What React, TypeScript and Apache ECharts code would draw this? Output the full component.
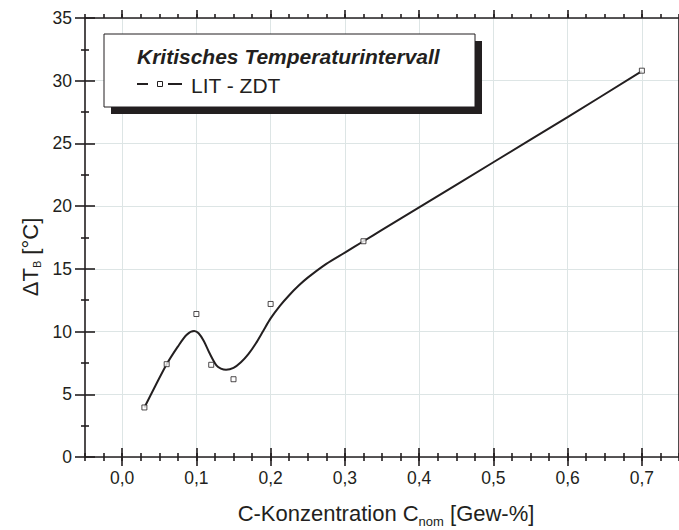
import React, { useEffect, useRef } from "react";
import * as echarts from "echarts";

// Major ticks on the concentration axis
const xTicks = [0, 0.1, 0.2, 0.3, 0.4, 0.5, 0.6, 0.7];

// Measured points: carbon concentration [wt-%] and critical interval ΔT_B [°C]
const measuredC = [0.03, 0.06, 0.1, 0.12, 0.15, 0.2, 0.325, 0.7];
const measuredDT = [3.95, 7.4, 11.4, 7.35, 6.2, 12.2, 17.2, 30.8];

// Fitted spline through the measurements (LIT - ZDT)
const fitC = [
  0.03, 0.045, 0.06, 0.075, 0.087, 0.097, 0.103, 0.11, 0.118, 0.127, 0.133,
  0.14, 0.15, 0.16, 0.17, 0.18, 0.19, 0.2, 0.2125, 0.225, 0.2375, 0.25,
  0.275, 0.3, 0.325, 0.35, 0.4, 0.5, 0.6, 0.7,
];
const fitDT = [
  3.95, 5.7, 7.4, 8.8, 9.75, 10.05, 9.87, 9.25, 8.25, 7.3, 7.05, 6.95, 7.1,
  7.55, 8.2, 9.05, 10.05, 11.05, 12.05, 12.9, 13.65, 14.3, 15.4, 16.3, 17.2,
  18.1, 19.9, 23.5, 27.1, 30.76,
];

const INK = "#231f20";
const GRID_COLOR = "#dde5e5";
const FONT = "'Liberation Sans', Arial, Helvetica, sans-serif";

const fmtComma = (v: number) => v.toFixed(1).replace(".", ",");

// width of a text run in the given pixel size
function textWidth(text: string, size: number): number {
  const ctx = document.createElement("canvas").getContext("2d");
  if (!ctx) return text.length * size * 0.55;
  ctx.font = `${size}px ${FONT}`;
  return ctx.measureText(text).width;
}

// a title made of runs, some of them subscripts, laid out along a line
type Run = { text: string; size: number; drop: number };

function titleRuns(runs: Run[], cx: number, cy: number, vertical: boolean) {
  const widths = runs.map((r) => textWidth(r.text, r.size));
  const total = widths.reduce((a, b) => a + b, 0);
  let pos = -total / 2;
  return runs.map((r, i) => {
    const el: any = {
      type: "text",
      z: 12,
      style: {
        text: r.text,
        fontSize: r.size,
        fontFamily: FONT,
        fill: INK,
        align: "left",
        verticalAlign: "middle",
      },
    };
    // baseline sits on cx/cy; 'middle' is ~0.3465 em above the baseline
    const mid = r.drop - 0.3465 * r.size;
    if (vertical) {
      el.rotation = Math.PI / 2;
      el.x = cx + mid;
      el.y = cy - pos;
    } else {
      el.x = cx + pos;
      el.y = cy + mid;
    }
    pos += widths[i];
    return el;
  });
}

export default function App() {
  const ref = useRef<HTMLDivElement>(null);

  useEffect(() => {
    if (!ref.current) return;
    const chart = echarts.init(ref.current, undefined, { renderer: "svg" });

    const line = { color: INK, width: 1.6 };
    const baseX = {
      type: "value" as const,
      min: -0.05,
      max: 0.75,
      splitNumber: 8,
      axisLine: { show: false, onZero: false, lineStyle: line },
      axisLabel: { show: false },
      splitLine: { show: false },
      minorTick: { show: false },
    };
    const baseY = {
      type: "value" as const,
      min: 0,
      max: 35,
      interval: 5,
      axisLine: { show: false, onZero: false, lineStyle: line },
      axisLabel: { show: false },
      splitLine: { show: false },
    };

    const xTitle = titleRuns(
      [
        { text: "C-Konzentration C", size: 22, drop: 0 },
        { text: "nom", size: 13, drop: 5 },
        { text: " [Gew-%]", size: 22, drop: 0 },
      ],
      386,
      521,
      false
    );
    const yTitle = titleRuns(
      [
        { text: "ΔT", size: 22, drop: 0 },
        { text: "B", size: 11, drop: 2 },
        { text: " [°C]", size: 22, drop: 0 },
      ],
      38.5,
      257,
      true
    );

    chart.setOption({
      animation: false,
      backgroundColor: "#ffffff",
      grid: { left: 85, top: 18, width: 596, height: 439, containLabel: false },
      xAxis: [
        {
          ...baseX,
          position: "bottom",
          axisLine: { show: true, onZero: false, lineStyle: line },
          axisTick: { show: true, inside: false, length: 9, customValues: xTicks, lineStyle: line },
          axisLabel: {
            show: true,
            customValues: xTicks,
            formatter: (v: number) => fmtComma(v),
            margin: 12,
            fontSize: 17.5,
            color: INK,
            fontFamily: FONT,
          },
          splitLine: { show: true, lineStyle: { color: GRID_COLOR, width: 1 } },
        },
        {
          ...baseX,
          position: "bottom",
          axisTick: { show: true, inside: true, length: 9, customValues: xTicks, lineStyle: line },
        },
        {
          ...baseX,
          position: "bottom",
          interval: 0.025,
          axisTick: { show: true, inside: false, length: 4, lineStyle: line },
        },
        {
          ...baseX,
          position: "bottom",
          interval: 0.025,
          axisTick: { show: true, inside: true, length: 4, lineStyle: line },
        },
        {
          ...baseX,
          position: "top",
          axisLine: { show: true, onZero: false, lineStyle: line },
          axisTick: { show: true, inside: false, length: 8, customValues: xTicks, lineStyle: line },
        },
        {
          ...baseX,
          position: "top",
          interval: 0.025,
          axisTick: { show: true, inside: false, length: 4, lineStyle: line },
        },
      ],
      yAxis: [
        {
          ...baseY,
          position: "left",
          axisLine: { show: true, onZero: false, lineStyle: line },
          axisTick: { show: true, inside: false, length: 10, lineStyle: line },
          minorTick: { show: true, splitNumber: 2, length: 4, lineStyle: line },
          axisLabel: {
            show: true,
            margin: 13,
            fontSize: 17.5,
            color: INK,
            fontFamily: FONT,
          },
          splitLine: { show: true, lineStyle: { color: GRID_COLOR, width: 1 } },
        },
        {
          ...baseY,
          position: "left",
          axisTick: { show: true, inside: true, length: 10, lineStyle: line },
          minorTick: { show: true, splitNumber: 2, length: 4, lineStyle: line },
        },
        {
          ...baseY,
          position: "right",
          axisLine: { show: true, onZero: false, lineStyle: line },
          axisTick: { show: false },
        },
      ],
      series: [
        {
          name: "LIT - ZDT",
          type: "line",
          xAxisIndex: 0,
          yAxisIndex: 0,
          data: fitC.map((c, i) => [c, fitDT[i]]),
          smooth: 0.3,
          showSymbol: false,
          symbol: "none",
          lineStyle: { color: INK, width: 2 },
          z: 3,
        },
        {
          name: "Messwerte",
          type: "scatter",
          xAxisIndex: 0,
          yAxisIndex: 0,
          data: measuredC.map((c, i) => [c, measuredDT[i]]),
          symbol: "rect",
          symbolSize: 5,
          itemStyle: { color: "#ffffff", borderColor: INK, borderWidth: 1 },
          z: 4,
        },
      ],
      graphic: [
        // legend box with drop shadow
        { type: "rect", z: 10, shape: { x: 111, y: 41, width: 371, height: 73 }, style: { fill: INK } },
        {
          type: "rect",
          z: 11,
          shape: { x: 104, y: 34, width: 371, height: 73 },
          style: { fill: "#ffffff", stroke: INK, lineWidth: 1 },
        },
        {
          type: "text",
          z: 12,
          x: 137,
          y: 56.5,
          style: {
            text: "Kritisches Temperaturintervall",
            fontSize: 21,
            fontWeight: "bold",
            fontStyle: "italic",
            fontFamily: FONT,
            fill: INK,
            align: "left",
            verticalAlign: "middle",
          },
        },
        { type: "line", z: 12, shape: { x1: 137, y1: 84, x2: 148, y2: 84 }, style: { stroke: INK, lineWidth: 2 } },
        { type: "line", z: 12, shape: { x1: 168, y1: 84, x2: 182, y2: 84 }, style: { stroke: INK, lineWidth: 2 } },
        {
          type: "rect",
          z: 12,
          shape: { x: 157.5, y: 81.5, width: 5, height: 5 },
          style: { fill: "#ffffff", stroke: INK, lineWidth: 1 },
        },
        {
          type: "text",
          z: 12,
          x: 191,
          y: 85,
          style: {
            text: "LIT - ZDT",
            fontSize: 21,
            fontFamily: FONT,
            fill: INK,
            align: "left",
            verticalAlign: "middle",
          },
        },
        ...xTitle,
        ...yTitle,
      ],
    });

    return () => chart.dispose();
  }, []);

  return (
    <div
      ref={ref}
      style={{ position: "fixed", left: 0, top: 0, width: 679, height: 530, background: "#ffffff" }}
    />
  );
}
